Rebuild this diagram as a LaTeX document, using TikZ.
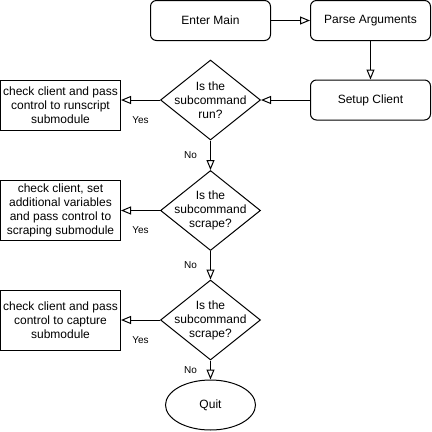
\documentclass[tikz,border=0pt]{standalone}
\usepackage{fontspec}
\setmainfont{Liberation Sans}
\usetikzlibrary{shapes.geometric,arrows.meta}
\begin{document}
\begin{tikzpicture}[x=1pt,y=-1pt,line width=1pt,
  every node/.style={font=\fontsize{12}{14}\selectfont},
  rbox/.style={draw,rounded corners=6pt,minimum width=120pt,minimum height=40pt,inner sep=0pt},
  sbox/.style={draw,minimum width=120pt,align=center,inner sep=0pt},
  dia/.style={draw,diamond,minimum width=100pt,minimum height=80pt,inner sep=0pt},
  endell/.style={draw,ellipse,minimum width=90pt,minimum height=50pt,inner sep=0pt},
  flow/.style={-{Triangle[open,length=10pt,width=8pt]}},
  elab/.style={font=\fontsize{10}{12}\selectfont,inner sep=0pt}]
\useasboundingbox (0,0) rectangle (432,432);
\node[rbox] (enter) at (210.5,20.5) {Enter Main};
\node[rbox] (parse) at (370.5,20.5) {Parse Arguments};
\node[rbox] (setup) at (370.5,100) {Setup Client};
\node[dia,label={[align=center,font=\fontsize{12}{14}\selectfont]center:Is the\\subcommand\\run?}] (d1) at (210.5,100) {};
\node[dia,label={[align=center,font=\fontsize{12}{14}\selectfont]center:Is the\\subcommand\\scrape?}] (d2) at (210.5,210.5) {};
\node[dia,label={[align=center,font=\fontsize{12}{14}\selectfont]center:Is the\\subcommand\\scrape?}] (d3) at (210.5,320) {};
\node[sbox,minimum height=50pt] (b1) at (60.5,105) {check client and pass\\control to runscript\\submodule};
\node[sbox,minimum height=60pt] (b2) at (60.5,210) {check client, set\\additional variables\\and pass control to\\scraping submodule};
\node[sbox,minimum height=60pt] (b3) at (60.5,320) {check client and pass\\control to capture\\submodule};
\node[endell] (quit) at (210.5,405) {Quit};
\draw[flow] (enter) -- (parse);
\draw[flow] (parse) -- (setup);
\draw[flow] (setup) -- (d1);
\draw[flow] (d1.west) -- node[elab,pos=0.5,yshift=-20pt]{Yes} (d1.west -| b1.east);
\draw[flow] (d2.west) -- node[elab,pos=0.5,yshift=-20pt]{Yes} (d2.west -| b2.east);
\draw[flow] (d3.west) -- node[elab,pos=0.5,yshift=-20pt]{Yes} (d3.west -| b3.east);
\draw[flow] (d1.south) -- node[elab,pos=0.5,xshift=-20pt]{No} (d2.north);
\draw[flow] (d2.south) -- node[elab,pos=0.5,xshift=-20pt]{No} (d3.north);
\draw[flow] (d3.south) -- node[elab,pos=0.5,xshift=-20pt]{No} (quit.north);
\end{tikzpicture}
\end{document}
